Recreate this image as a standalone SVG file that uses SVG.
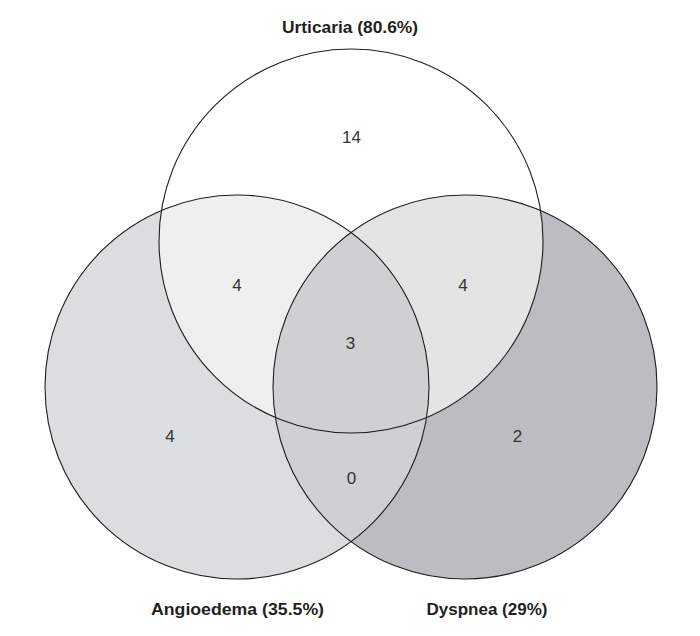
<svg xmlns="http://www.w3.org/2000/svg" width="700" height="636" viewBox="0 0 700 636">
  <style>
    .ring { fill: none; stroke: #1e1e1e; stroke-width: 1.1; }
    .label { font-family: "Liberation Sans", Arial, sans-serif; font-weight: bold; font-size: 16px; fill: #231f20; text-anchor: middle; }
    .num { font-family: "Liberation Sans", Arial, sans-serif; font-size: 17px; fill: #333333; text-anchor: middle; }
  </style>
  <defs>
    <clipPath id="clipU"><circle cx="351" cy="241" r="192"/></clipPath>
    <clipPath id="clipA"><circle cx="237" cy="387" r="192"/></clipPath>
  </defs>
  <rect x="0" y="0" width="700" height="636" fill="#ffffff"/>

  <g id="fills">
    <circle cx="237" cy="387" r="192" fill="#dcdddf"/>
    <circle cx="465" cy="387" r="192" fill="#bcbdc1"/>
    <circle cx="351" cy="241" r="192" fill="#ffffff"/>
    <circle cx="237" cy="387" r="192" fill="#efefef" clip-path="url(#clipU)"/>
    <circle cx="465" cy="387" r="192" fill="#e3e4e4" clip-path="url(#clipU)"/>
    <g clip-path="url(#clipA)">
      <circle cx="465" cy="387" r="192" fill="#cfd0d2"/>
    </g>
  </g>

  <g id="urticaria">
    <circle class="ring" cx="351" cy="241" r="192"/>
    <text class="label" x="350" y="33" textLength="136" lengthAdjust="spacingAndGlyphs">Urticaria (80.6%)</text>
  </g>
  <g id="angioedema">
    <circle class="ring" cx="237" cy="387" r="192"/>
    <text class="label" x="237.5" y="615" textLength="173" lengthAdjust="spacingAndGlyphs">Angioedema (35.5%)</text>
  </g>
  <g id="dyspnea">
    <circle class="ring" cx="465" cy="387" r="192"/>
    <text class="label" x="487" y="615" textLength="121" lengthAdjust="spacingAndGlyphs">Dyspnea (29%)</text>
  </g>

  <g id="counts">
    <text class="num" x="351.5" y="143">14</text>
    <text class="num" x="237" y="291">4</text>
    <text class="num" x="463" y="291">4</text>
    <text class="num" x="350.5" y="349">3</text>
    <text class="num" x="170" y="442">4</text>
    <text class="num" x="517.5" y="442">2</text>
    <text class="num" x="351.5" y="484">0</text>
  </g>
</svg>
